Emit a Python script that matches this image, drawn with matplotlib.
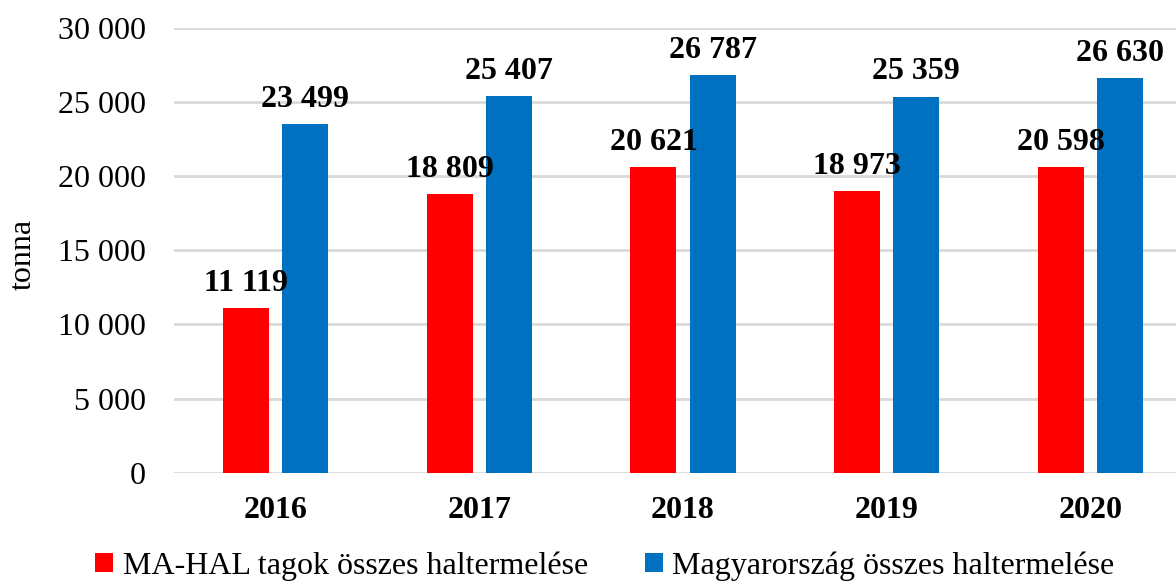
import matplotlib.pyplot as plt
import numpy as np

# data
years = ["2016", "2017", "2018", "2019", "2020"]
mahal = [11119, 18809, 20621, 18973, 20598]
hungary = [23499, 25407, 26787, 25359, 26630]
labels = ["MA-HAL tagok összes haltermelése", "Magyarország összes haltermelése"]
yticks = [0, 5000, 10000, 15000, 20000, 25000, 30000]


def fmt(v):
    return f"{v:,}".replace(",", " ")


plt.rcParams["font.family"] = ["Liberation Serif", "DejaVu Serif"]

fig = plt.figure(figsize=(11.76, 5.85), dpi=100)
ax = fig.add_axes([174 / 1176, 1 - 472.7 / 585, 1018 / 1176, 445 / 585])

x = np.arange(len(years))
w = 0.226
off = 0.145
b1 = ax.bar(x - off, mahal, w, color="#FF0000", label=labels[0], zorder=3)
b2 = ax.bar(x + off, hungary, w, color="#0070C0", label=labels[1], zorder=3)

for bars in (b1, b2):
    for r in bars:
        ax.text(r.get_x() + r.get_width() / 2, r.get_height() + 1150, fmt(int(r.get_height())),
                ha="center", va="baseline", fontsize=23, fontweight="bold", zorder=4)

ax.set_xlim(-0.5, len(years) - 0.5)
ax.set_ylim(0, 30000)
ax.set_yticks(yticks)
ax.set_yticklabels([fmt(v) for v in yticks], fontsize=23)
ax.set_xticks(x)
ax.set_xticklabels(years, fontsize=23, fontweight="bold")
ax.tick_params(axis="both", length=0)
ax.tick_params(axis="x", pad=17)
ax.tick_params(axis="y", pad=20)
ax.yaxis.grid(True, color="#d9d9d9", linewidth=2, zorder=0)
for s in ax.spines.values():
    s.set_visible(False)

ax.set_ylabel("tonna", fontsize=23)
ax.yaxis.set_label_coords(-0.134, 0.49)

fig.legend(loc="lower center", bbox_to_anchor=(0.5145, -0.042), ncol=2, frameon=False,
           fontsize=23, handlelength=0.55, handleheight=0.55, handletextpad=0.3,
           columnspacing=1.8)

fig.savefig("out.png", dpi=100)
